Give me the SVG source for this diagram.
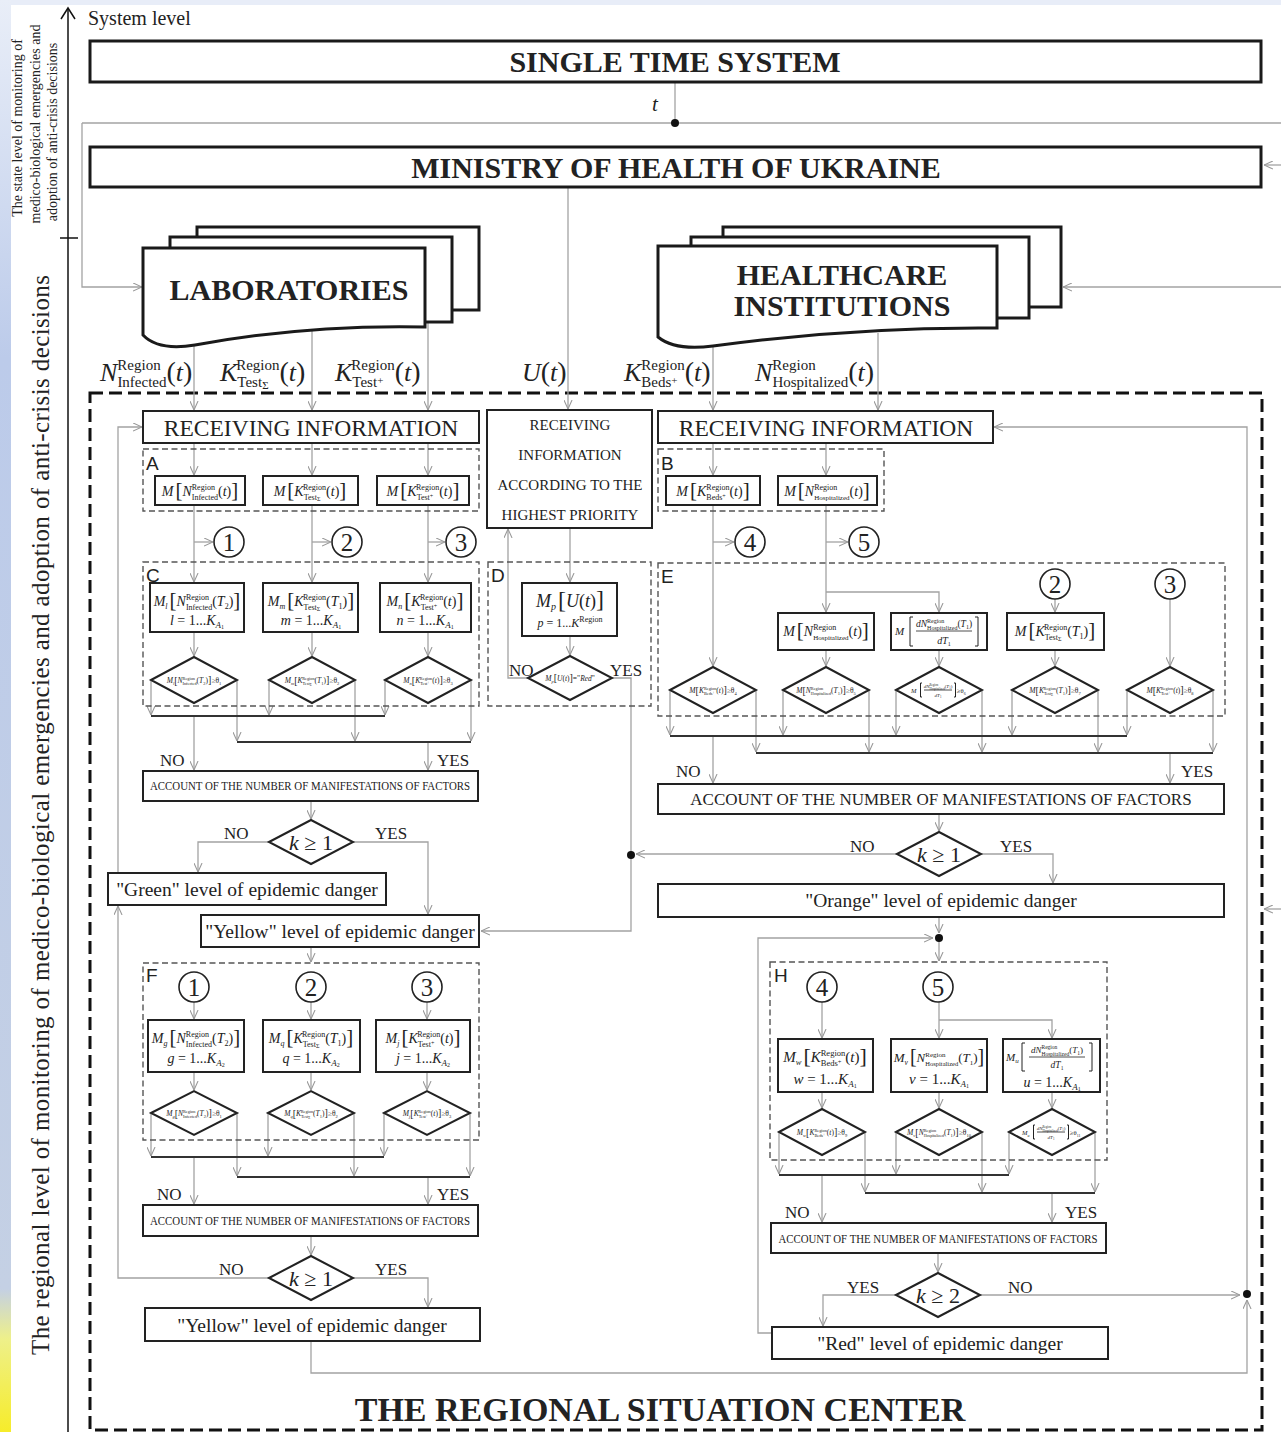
<svg xmlns="http://www.w3.org/2000/svg" width="1281" height="1432" viewBox="0 0 1281 1432">
<defs>
<linearGradient id="lg" x1="0" y1="0" x2="0" y2="1">
<stop offset="0" stop-color="#e9eef8"/>
<stop offset="0.25" stop-color="#bccbea"/>
<stop offset="0.9" stop-color="#c4d0e4"/>
<stop offset="0.935" stop-color="#eef08a"/>
<stop offset="1" stop-color="#f6ec2a"/>
</linearGradient>
<marker id="ar" viewBox="0 0 10 10" refX="10" refY="5" markerWidth="9" markerHeight="9" markerUnits="userSpaceOnUse" orient="auto"><path d="M0,0.5 L10,5 L0,9.5" fill="none" stroke="#999" stroke-width="1.2"/></marker>
<style>
.box{fill:#fff;stroke:#222;stroke-width:2}
.tb{fill:#fff;stroke:#1a1a1a;stroke-width:3}
.dm{fill:#fff;stroke:#222;stroke-width:2}
.sec{fill:none;stroke:#555;stroke-width:1.4;stroke-dasharray:6 3.5}
.reg{fill:none;stroke:#111;stroke-width:3;stroke-dasharray:13 6}
.c{fill:none;stroke:#a3a3a3;stroke-width:1.3}
.a{marker-end:url(#ar)}
.bus{fill:none;stroke:#333;stroke-width:2}
.cir{fill:#fff;stroke:#222;stroke-width:1.6}
.br{fill:none;stroke:#222;stroke-width:1}
.fl{stroke:#222;stroke-width:0.8}
text{font-family:"Liberation Serif","Times New Roman",serif;fill:#222}
.fm{text-anchor:middle}
.i{font-style:italic}
.bt{font-weight:bold;text-anchor:middle;font-size:30px}
.sl{font-family:"Liberation Sans",Arial,sans-serif;font-size:19px}
.lb{font-size:17px}
.num{font-size:25px;text-anchor:middle}
.lv{font-size:19.5px;text-anchor:middle}
</style>
</defs>
<rect x="0" y="0" width="1281" height="1432" fill="#fff"/>
<rect x="0" y="0" width="1281" height="5" fill="#e8edf8"/>
<rect x="0" y="0" width="11" height="1432" fill="url(#lg)"/>

<g id="axis">
<path d="M68,1432 V9" stroke="#111" stroke-width="1.5" fill="none"/>
<path d="M61,19 L68,8 L75,19" stroke="#111" stroke-width="1.5" fill="none"/>
<path d="M60,238 H78" stroke="#111" stroke-width="1.5"/>
<text x="88" y="25" font-size="20">System level</text>
<text class="fm" transform="translate(22,128) rotate(-90)" font-size="14">The state level of monitoring of</text>
<text class="fm" transform="translate(40,124) rotate(-90)" font-size="14">medico-biological emergencies and</text>
<text class="fm" transform="translate(57,132) rotate(-90)" font-size="14">adoption of anti-crisis decisions</text>
<text class="fm" transform="translate(49,815) rotate(-90)" font-size="25" textLength="1080">The regional level of monitoring of medico-biological emergencies and adoption of anti-crisis decisions</text>
</g>

<g id="region-border"><rect class="reg" x="90" y="393" width="1172" height="1037"/></g>

<g id="connectors">
<path class="c" d="M675,82 V123"/>
<path class="c" d="M82,123 H1281"/>
<path class="c a" d="M82,123 V287 H142"/>
<path class="c a" d="M1281,165 H1264"/>
<path class="c a" d="M1281,287 H1063"/>
<path class="c a" d="M1281,909 H1264"/>
<path class="c a" d="M568,187 V409"/>
<path class="c a" d="M194,345 V410"/>
<path class="c a" d="M312,331 V410"/>
<path class="c a" d="M428,322 V410"/>
<path class="c a" d="M713,347 V410"/>
<path class="c a" d="M878,333 V410"/>
<path class="c a" d="M194,443 V475"/>
<path class="c a" d="M312,443 V475"/>
<path class="c a" d="M428,443 V475"/>
<path class="c a" d="M194,505 V582"/>
<path class="c a" d="M312,505 V582"/>
<path class="c a" d="M428,505 V582"/>
<path class="c a" d="M194,542 H213"/>
<path class="c a" d="M312,542 H331"/>
<path class="c a" d="M428,542 H445"/>
<path class="c a" d="M194,632 V656"/>
<path class="c a" d="M312,632 V656"/>
<path class="c a" d="M428,632 V656"/>
<path class="c a" d="M151,680 V715"/>
<path class="c a" d="M237,680 V741"/>
<path class="c a" d="M269,680 V715"/>
<path class="c a" d="M355,680 V741"/>
<path class="c a" d="M385,680 V715"/>
<path class="c a" d="M471,680 V741"/>
<path class="c a" d="M194,716 V770"/>
<path class="c a" d="M428,742 V770"/>
<path class="c a" d="M311,801 V819"/>
<path class="c a" d="M269,842 H198 V872"/>
<path class="c a" d="M353,842 H428 V914"/>
<path class="c a" d="M570,528 V582"/>
<path class="c a" d="M570,636 V655"/>
<path class="c a" d="M528,678 H508 V529"/>
<path class="c" d="M612,678 H631 V855"/>
<path class="c a" d="M897,854 H636"/>
<path class="c a" d="M631,855 V931 H481"/>
<path class="c a" d="M311,947 V962"/>
<path class="c a" d="M269,1278 H118 V906"/>
<path class="c a" d="M118,873 V427 H142"/>
<path class="c a" d="M713,443 V475"/>
<path class="c a" d="M826,443 V475"/>
<path class="c a" d="M713,505 V666"/>
<path class="c a" d="M713,542 H734"/>
<path class="c a" d="M826,505 V612"/>
<path class="c a" d="M826,542 H848"/>
<path class="c a" d="M826,592 H939 V612"/>
<path class="c a" d="M826,650 V666"/>
<path class="c a" d="M939,650 V666"/>
<path class="c a" d="M1055,650 V666"/>
<path class="c a" d="M1055,599 V612"/>
<path class="c a" d="M1170,599 V666"/>
<path class="c a" d="M670,690 V735"/>
<path class="c a" d="M783,690 V735"/>
<path class="c a" d="M896,690 V735"/>
<path class="c a" d="M1012,690 V735"/>
<path class="c a" d="M1127,690 V735"/>
<path class="c a" d="M756,690 V752"/>
<path class="c a" d="M869,690 V752"/>
<path class="c a" d="M982,690 V752"/>
<path class="c a" d="M1098,690 V752"/>
<path class="c a" d="M1213,690 V752"/>
<path class="c a" d="M713,736 V783"/>
<path class="c a" d="M1170,753 V783"/>
<path class="c a" d="M939,814 V831"/>
<path class="c a" d="M981,854 H1053 V883"/>
<path class="c a" d="M939,917 V933"/>
<path class="c a" d="M772,1333 H758 V938 H933"/>
<path class="c a" d="M939,938 V961"/>
<path class="c a" d="M822,1002 V1038"/>
<path class="c a" d="M939,1002 V1038"/>
<path class="c a" d="M939,1020 H1052 V1038"/>
<path class="c a" d="M822,1092 V1108"/>
<path class="c a" d="M939,1092 V1108"/>
<path class="c a" d="M1052,1092 V1108"/>
<path class="c a" d="M779,1132 V1174"/>
<path class="c a" d="M896,1132 V1174"/>
<path class="c a" d="M1009,1132 V1174"/>
<path class="c a" d="M865,1132 V1192"/>
<path class="c a" d="M982,1132 V1192"/>
<path class="c a" d="M1095,1132 V1192"/>
<path class="c a" d="M822,1175 V1222"/>
<path class="c a" d="M1052,1193 V1222"/>
<path class="c a" d="M938,1253 V1272"/>
<path class="c a" d="M896,1295 H823 V1326"/>
<path class="c a" d="M980,1295 H1240"/>
<path class="c a" d="M311,1341 V1373 H1247 V1300"/>
<path class="c a" d="M1247,1294 V427 H994"/>
<path class="c a" d="M194,1002 V1019"/>
<path class="c a" d="M311,1002 V1019"/>
<path class="c a" d="M427,1002 V1019"/>
<path class="c a" d="M194,1072 V1090"/>
<path class="c a" d="M311,1072 V1090"/>
<path class="c a" d="M427,1072 V1090"/>
<path class="c a" d="M151,1113 V1156"/>
<path class="c a" d="M268,1113 V1156"/>
<path class="c a" d="M384,1113 V1156"/>
<path class="c a" d="M237,1113 V1176"/>
<path class="c a" d="M354,1113 V1176"/>
<path class="c a" d="M470,1113 V1176"/>
<path class="c a" d="M194,1157 V1204"/>
<path class="c a" d="M428,1177 V1204"/>
<path class="c a" d="M311,1236 V1255"/>
<path class="c a" d="M353,1278 H428 V1307"/>
<path class="bus" d="M151,716 H385 M237,742 H471 M670,736 H1127 M756,753 H1213 M779,1175 H1009 M865,1193 H1095 M151,1157 H384 M237,1177 H470"/>
<circle cx="675" cy="123" r="4" fill="#111"/>
<circle cx="631" cy="855" r="4" fill="#111"/>
<circle cx="939" cy="938" r="4" fill="#111"/>
<circle cx="1247" cy="1294" r="4" fill="#111"/>
<text x="652" y="111" font-size="21" class="i">t</text>
<text x="100" y="381" font-size="26"><tspan class="i">N</tspan><tspan font-size="15" dy="-11">Region</tspan><tspan font-size="15" dx="-43.3" dy="17">Infected</tspan><tspan font-size="28" dy="-6">(</tspan><tspan class="i">t</tspan><tspan font-size="28">)</tspan></text>
<text x="220" y="381" font-size="26"><tspan class="i">K</tspan><tspan font-size="15" dy="6">Test</tspan><tspan font-size="11" dy="2">Σ</tspan><tspan font-size="15" dx="-32.4" dy="-19">Region</tspan><tspan font-size="28" dy="11">(</tspan><tspan class="i">t</tspan><tspan font-size="28">)</tspan></text>
<text x="335" y="381" font-size="26"><tspan class="i">K</tspan><tspan font-size="15" dy="6">Test</tspan><tspan font-size="11" dy="-3">+</tspan><tspan font-size="15" dx="-32" dy="-14">Region</tspan><tspan font-size="28" dy="11">(</tspan><tspan class="i">t</tspan><tspan font-size="28">)</tspan></text>
<text x="522" y="381" font-size="26"><tspan class="i">U</tspan><tspan font-size="28">(</tspan><tspan class="i">t</tspan><tspan font-size="28">)</tspan></text>
<text x="624" y="381" font-size="26"><tspan class="i">K</tspan><tspan font-size="15" dy="6">Beds</tspan><tspan font-size="11" dy="-3">+</tspan><tspan font-size="15" dx="-36.2" dy="-14">Region</tspan><tspan font-size="28" dy="11">(</tspan><tspan class="i">t</tspan><tspan font-size="28">)</tspan></text>
<text x="755" y="381" font-size="26"><tspan class="i">N</tspan><tspan font-size="15" dy="-11">Region</tspan><tspan font-size="15" dx="-43.3" dy="17">Hospitalized</tspan><tspan font-size="28" dy="-6">(</tspan><tspan class="i">t</tspan><tspan font-size="28">)</tspan></text>
<text class="lb" x="160" y="766">NO</text>
<text class="lb" x="437" y="766">YES</text>
<text class="lb" x="224" y="839">NO</text>
<text class="lb" x="375" y="839">YES</text>
<text class="lb" x="509" y="676">NO</text>
<text class="lb" x="610" y="676">YES</text>
<text class="lb" x="676" y="777">NO</text>
<text class="lb" x="1181" y="777">YES</text>
<text class="lb" x="850" y="852">NO</text>
<text class="lb" x="1000" y="852">YES</text>
<text class="lb" x="157" y="1200">NO</text>
<text class="lb" x="437" y="1200">YES</text>
<text class="lb" x="219" y="1275">NO</text>
<text class="lb" x="375" y="1275">YES</text>
<text class="lb" x="785" y="1218">NO</text>
<text class="lb" x="1065" y="1218">YES</text>
<text class="lb" x="847" y="1293">YES</text>
<text class="lb" x="1008" y="1293">NO</text>
</g>

<g id="single-time-system"><rect class="tb" x="90" y="41" width="1171" height="41"/><text class="bt" x="675" y="72">SINGLE TIME SYSTEM</text></g>
<g id="ministry"><rect class="tb" x="90" y="147" width="1171" height="40"/><text class="bt" x="676" y="178">MINISTRY OF HEALTH OF UKRAINE</text></g>

<g id="laboratories">
<rect class="tb" x="197" y="227" width="282" height="83"/>
<rect class="tb" x="170" y="237" width="282" height="85"/>
<path class="tb" d="M143,248 H425 V327 C330,325 255,334 195,345 Q158,351 143,335 Z"/>
<text class="bt" x="289" y="300">LABORATORIES</text>
</g>
<g id="healthcare">
<rect class="tb" x="723" y="227" width="338" height="80"/>
<rect class="tb" x="691" y="237" width="338" height="81"/>
<path class="tb" d="M658,246 H997 V328 C890,327 800,334 713,346 Q675,351 658,337 Z"/>
<text class="bt" x="842" y="285">HEALTHCARE</text>
<text class="bt" x="842" y="316">INSTITUTIONS</text>
</g>

<g id="receiving-left"><rect class="box" x="143" y="411" width="336" height="32"/><text class="fm" x="311" y="436" font-size="23.5">RECEIVING INFORMATION</text></g>
<g id="receiving-priority"><rect class="box" x="487" y="410" width="165" height="118"/>
<text class="fm" x="570" y="430" font-size="15">RECEIVING</text>
<text class="fm" x="570" y="460" font-size="15">INFORMATION</text>
<text class="fm" x="570" y="490" font-size="15">ACCORDING TO THE</text>
<text class="fm" x="570" y="520" font-size="15">HIGHEST PRIORITY</text></g>
<g id="receiving-right"><rect class="box" x="658" y="411" width="335" height="32"/><text class="fm" x="826" y="436" font-size="23.5">RECEIVING INFORMATION</text></g>

<g id="section-A">
<rect class="sec" x="143" y="449" width="336" height="62"/><text class="sl" x="146" y="470">A</text>
<rect class="box" x="155" y="476" width="90" height="29"/>
<text class="fm" x="200" y="496" font-size="14"><tspan class="i">M</tspan><tspan font-size="21" dx="2" dy="1">[</tspan><tspan class="i" dy="-1">N</tspan><tspan font-size="8" dy="-6">Region</tspan><tspan font-size="8" dx="-23.1" dy="10">Infected</tspan><tspan dy="-4">(</tspan><tspan class="i">t</tspan><tspan>)</tspan><tspan font-size="21" dy="1">]</tspan></text>
<rect class="box" x="263" y="476" width="95" height="29"/>
<text class="fm" x="310" y="496" font-size="14"><tspan class="i">M</tspan><tspan font-size="21" dx="2" dy="1">[</tspan><tspan class="i" dy="-1">K</tspan><tspan font-size="8" dy="4">Test</tspan><tspan font-size="6" dy="1">Σ</tspan><tspan font-size="8" dx="-17.4" dy="-11">Region</tspan><tspan dy="6">(</tspan><tspan class="i">t</tspan><tspan>)</tspan><tspan font-size="21" dy="1">]</tspan></text>
<rect class="box" x="377" y="476" width="92" height="29"/>
<text class="fm" x="423" y="496" font-size="14"><tspan class="i">M</tspan><tspan font-size="21" dx="2" dy="1">[</tspan><tspan class="i" dy="-1">K</tspan><tspan font-size="8" dy="4">Test</tspan><tspan font-size="6" dy="-2">+</tspan><tspan font-size="8" dx="-17.2" dy="-8">Region</tspan><tspan dy="6">(</tspan><tspan class="i">t</tspan><tspan>)</tspan><tspan font-size="21" dy="1">]</tspan></text>
</g>

<g id="section-B">
<rect class="sec" x="658" y="449" width="226" height="62"/><text class="sl" x="661" y="470">B</text>
<rect class="box" x="666" y="476" width="94" height="29"/>
<text class="fm" x="713" y="496" font-size="14"><tspan class="i">M</tspan><tspan font-size="21" dx="2" dy="1">[</tspan><tspan class="i" dy="-1">K</tspan><tspan font-size="8" dy="4">Beds</tspan><tspan font-size="6" dy="-2">+</tspan><tspan font-size="8" dx="-19.4" dy="-8">Region</tspan><tspan dy="6">(</tspan><tspan class="i">t</tspan><tspan>)</tspan><tspan font-size="21" dy="1">]</tspan></text>
<rect class="box" x="778" y="476" width="99" height="29"/>
<text class="fm" x="827" y="496" font-size="14"><tspan class="i">M</tspan><tspan font-size="21" dx="2" dy="1">[</tspan><tspan class="i" dy="-1">N</tspan><tspan font-size="8" dy="-6">Region</tspan><tspan font-size="7" dx="-23.1" dy="10">Hospitalized</tspan><tspan dy="-4">(</tspan><tspan class="i">t</tspan><tspan>)</tspan><tspan font-size="21" dy="1">]</tspan></text>
</g>

<g id="circles">
<circle class="cir" cx="229" cy="542" r="15"/><text class="num" x="229" y="551">1</text>
<circle class="cir" cx="347" cy="542" r="15"/><text class="num" x="347" y="551">2</text>
<circle class="cir" cx="461" cy="542" r="15"/><text class="num" x="461" y="551">3</text>
<circle class="cir" cx="750" cy="542" r="15"/><text class="num" x="750" y="551">4</text>
<circle class="cir" cx="864" cy="542" r="15"/><text class="num" x="864" y="551">5</text>
<circle class="cir" cx="1055" cy="584" r="15"/><text class="num" x="1055" y="593">2</text>
<circle class="cir" cx="1170" cy="584" r="15"/><text class="num" x="1170" y="593">3</text>
<circle class="cir" cx="194" cy="987" r="15"/><text class="num" x="194" y="996">1</text>
<circle class="cir" cx="311" cy="987" r="15"/><text class="num" x="311" y="996">2</text>
<circle class="cir" cx="427" cy="987" r="15"/><text class="num" x="427" y="996">3</text>
<circle class="cir" cx="822" cy="987" r="15"/><text class="num" x="822" y="996">4</text>
<circle class="cir" cx="938" cy="987" r="15"/><text class="num" x="938" y="996">5</text>
</g>

<g id="section-C">
<rect class="sec" x="143" y="562" width="336" height="144"/><text class="sl" x="146" y="582">C</text>
<rect class="box" x="150" y="583" width="94" height="49"/>
<text class="fm" x="197" y="606" font-size="14"><tspan class="i">M</tspan><tspan class="i" font-size="8" dy="3">l</tspan><tspan font-size="21" dx="2" dy="-2">[</tspan><tspan class="i" dy="-1">N</tspan><tspan font-size="8" dy="-6">Region</tspan><tspan font-size="8" dx="-23.1" dy="10">Infected</tspan><tspan dy="-4">(</tspan><tspan class="i">T</tspan><tspan font-size="8" dy="3">2</tspan><tspan dy="-3">)</tspan><tspan font-size="21" dy="1">]</tspan></text>
<text class="fm" x="197" y="625" font-size="14"><tspan class="i">l</tspan> = 1...<tspan class="i">K</tspan><tspan class="i" font-size="9" dy="3">A</tspan><tspan font-size="6" dy="1">1</tspan></text>
<rect class="box" x="263" y="583" width="95" height="49"/>
<text class="fm" x="311" y="606" font-size="14"><tspan class="i">M</tspan><tspan class="i" font-size="8" dy="3">m</tspan><tspan font-size="21" dx="2" dy="-2">[</tspan><tspan class="i" dy="-1">K</tspan><tspan font-size="8" dy="4">Test</tspan><tspan font-size="6" dy="1">Σ</tspan><tspan font-size="8" dx="-17.4" dy="-11">Region</tspan><tspan dy="6">(</tspan><tspan class="i">T</tspan><tspan font-size="8" dy="3">1</tspan><tspan dy="-3">)</tspan><tspan font-size="21" dy="1">]</tspan></text>
<text class="fm" x="311" y="625" font-size="14"><tspan class="i">m</tspan> = 1...<tspan class="i">K</tspan><tspan class="i" font-size="9" dy="3">A</tspan><tspan font-size="6" dy="1">1</tspan></text>
<rect class="box" x="380" y="583" width="91" height="49"/>
<text class="fm" x="425" y="606" font-size="14"><tspan class="i">M</tspan><tspan class="i" font-size="8" dy="3">n</tspan><tspan font-size="21" dx="2" dy="-2">[</tspan><tspan class="i" dy="-1">K</tspan><tspan font-size="8" dy="4">Test</tspan><tspan font-size="6" dy="-2">+</tspan><tspan font-size="8" dx="-17.2" dy="-8">Region</tspan><tspan dy="6">(</tspan><tspan class="i">t</tspan><tspan>)</tspan><tspan font-size="21" dy="1">]</tspan></text>
<text class="fm" x="425" y="625" font-size="14"><tspan class="i">n</tspan> = 1...<tspan class="i">K</tspan><tspan class="i" font-size="9" dy="3">A</tspan><tspan font-size="6" dy="1">1</tspan></text>
<polygon class="dm" points="151,680 194,657 237,680 194,703"/>
<text class="fm" x="194" y="683" font-size="7.5"><tspan class="i">M</tspan><tspan class="i" font-size="4.5" dy="2">l</tspan><tspan font-size="10" dy="-1.5">[</tspan><tspan class="i" dy="-0.5">N</tspan><tspan font-size="4.3" dy="-3">Region</tspan><tspan font-size="4.3" dx="-12.4" dy="5">Infected</tspan><tspan dy="-2">(</tspan><tspan class="i">T</tspan><tspan font-size="4.5" dy="1.5">2</tspan><tspan dy="-1.5">)</tspan><tspan font-size="10">]</tspan>≥θ<tspan font-size="4.5" dy="1.5">1</tspan></text>
<polygon class="dm" points="269,680 312,657 355,680 312,703"/>
<text class="fm" x="312" y="683" font-size="7.5"><tspan class="i">M</tspan><tspan class="i" font-size="4.5" dy="2">m</tspan><tspan font-size="10" dy="-1.5">[</tspan><tspan class="i" dy="-0.5">K</tspan><tspan font-size="4.3" dy="2">Test</tspan><tspan font-size="3.5" dy="0.5">Σ</tspan><tspan font-size="4.3" dx="-9.5" dy="-5.5">Region</tspan><tspan dy="3">(</tspan><tspan class="i">T</tspan><tspan font-size="4.5" dy="1.5">1</tspan><tspan dy="-1.5">)</tspan><tspan font-size="10">]</tspan>≥θ<tspan font-size="4.5" dy="1.5">2</tspan></text>
<polygon class="dm" points="385,680 428,657 471,680 428,703"/>
<text class="fm" x="428" y="683" font-size="7.5"><tspan class="i">M</tspan><tspan class="i" font-size="4.5" dy="2">n</tspan><tspan font-size="10" dy="-1.5">[</tspan><tspan class="i" dy="-0.5">K</tspan><tspan font-size="4.3" dy="2">Test</tspan><tspan font-size="3.5" dy="-1">+</tspan><tspan font-size="4.3" dx="-9.4" dy="-4">Region</tspan><tspan dy="3">(</tspan><tspan class="i">t</tspan><tspan>)</tspan><tspan font-size="10">]</tspan>≥θ<tspan font-size="4.5" dy="1.5">3</tspan></text>
</g>

<g id="section-D">
<rect class="sec" x="488" y="562" width="163" height="144"/><text class="sl" x="491" y="582">D</text>
<rect class="box" x="522" y="583" width="95" height="53"/>
<text class="fm" x="570" y="607" font-size="18"><tspan class="i">M</tspan><tspan class="i" font-size="10" dy="3">p</tspan><tspan font-size="24" dx="2" dy="-2">[</tspan><tspan class="i" dy="-1">U</tspan><tspan>(</tspan><tspan class="i">t</tspan><tspan>)</tspan><tspan font-size="24">]</tspan></text>
<text class="fm" x="570" y="627" font-size="12"><tspan class="i">p</tspan> = 1...<tspan class="i">K</tspan><tspan font-size="8" dy="-5">Region</tspan></text>
<polygon class="dm" points="528,678 570,656 612,678 570,700"/>
<text class="fm" x="570" y="681" font-size="7.5"><tspan class="i">M</tspan><tspan class="i" font-size="4.5" dy="2">p</tspan><tspan font-size="10" dy="-2">[</tspan><tspan class="i">U</tspan>(<tspan class="i">t</tspan>)<tspan font-size="10">]</tspan>="<tspan class="i">Red</tspan>"</text>
</g>

<g id="section-E">
<rect class="sec" x="658" y="563" width="567" height="153"/><text class="sl" x="661" y="583">E</text>
<rect class="box" x="778" y="613" width="96" height="37"/>
<text class="fm" x="826" y="636" font-size="14"><tspan class="i">M</tspan><tspan font-size="21" dx="2" dy="1">[</tspan><tspan class="i" dy="-1">N</tspan><tspan font-size="8" dy="-6">Region</tspan><tspan font-size="7" dx="-23.1" dy="10">Hospitalized</tspan><tspan dy="-4">(</tspan><tspan class="i">t</tspan><tspan>)</tspan><tspan font-size="21" dy="1">]</tspan></text>
<rect class="box" x="891" y="613" width="96" height="37"/>
<text x="895" y="635" font-size="11" class="i">M</text>
<path class="br" d="M913,617 h-3 v29 h3 M975,617 h3 v29 h-3"/>
<text class="fm" x="944" y="627" font-size="9.5"><tspan class="i">dN</tspan><tspan font-size="6" dy="-4">Region</tspan><tspan font-size="6" dx="-17.3" dy="7">Hospitalized</tspan><tspan dy="-3">(</tspan><tspan class="i">T</tspan><tspan font-size="6" dy="2">1</tspan><tspan dy="-2">)</tspan></text>
<path class="fl" d="M916,631 H972"/>
<text class="fm" x="944" y="644" font-size="10"><tspan class="i">dT</tspan><tspan font-size="6" dy="2">1</tspan></text>
<rect class="box" x="1007" y="613" width="97" height="37"/>
<text class="fm" x="1055" y="636" font-size="14"><tspan class="i">M</tspan><tspan font-size="21" dx="2" dy="1">[</tspan><tspan class="i" dy="-1">K</tspan><tspan font-size="8" dy="4">Test</tspan><tspan font-size="6" dy="1">Σ</tspan><tspan font-size="8" dx="-17.4" dy="-11">Region</tspan><tspan dy="6">(</tspan><tspan class="i">T</tspan><tspan font-size="8" dy="3">1</tspan><tspan dy="-3">)</tspan><tspan font-size="21" dy="1">]</tspan></text>
<polygon class="dm" points="670,690 713,667 756,690 713,713"/>
<text class="fm" x="713" y="693" font-size="7.5"><tspan class="i">M</tspan><tspan font-size="10" dy="0.5">[</tspan><tspan class="i" dy="-0.5">K</tspan><tspan font-size="4.3" dy="2">Beds</tspan><tspan font-size="3.5" dy="-1">+</tspan><tspan font-size="4.3" dx="-10.6" dy="-4">Region</tspan><tspan dy="3">(</tspan><tspan class="i">t</tspan><tspan>)</tspan><tspan font-size="10">]</tspan>≥θ<tspan font-size="4.5" dy="1.5">4</tspan></text>
<polygon class="dm" points="783,690 826,667 869,690 826,713"/>
<text class="fm" x="826" y="693" font-size="7.5"><tspan class="i">M</tspan><tspan font-size="10" dy="0.5">[</tspan><tspan class="i" dy="-0.5">N</tspan><tspan font-size="4.3" dy="-3">Region</tspan><tspan font-size="4" dx="-12.4" dy="5">Hospitalized</tspan><tspan dy="-2">(</tspan><tspan class="i">T</tspan><tspan font-size="4.5" dy="1.5">1</tspan><tspan dy="-1.5">)</tspan><tspan font-size="10">]</tspan>≥θ<tspan font-size="4.5" dy="1.5">5</tspan></text>
<polygon class="dm" points="896,690 939,667 982,690 939,713"/>
<text x="911" y="693" font-size="6.5" class="i">M</text>
<path class="br" d="M922,683 h-1.5 v14 h1.5 M954,683 h1.5 v14 h-1.5"/>
<text class="fm" x="938" y="688" font-size="5"><tspan class="i">dN</tspan><tspan font-size="3" dy="-2">Region</tspan><tspan font-size="3" dx="-8.7" dy="3.5">Hospitalized</tspan><tspan dy="-1.5">(</tspan><tspan class="i">T</tspan><tspan font-size="3" dy="1">1</tspan><tspan dy="-1">)</tspan></text>
<path class="fl" d="M924,690 H952" stroke-width="0.6"/>
<text class="fm" x="938" y="697" font-size="5"><tspan class="i">dT</tspan><tspan font-size="3" dy="1">1</tspan></text>
<text x="957" y="693" font-size="6.5">≥θ<tspan font-size="4" dy="1.5">6</tspan></text>
<polygon class="dm" points="1012,690 1055,667 1098,690 1055,713"/>
<text class="fm" x="1055" y="693" font-size="7.5"><tspan class="i">M</tspan><tspan font-size="10" dy="0.5">[</tspan><tspan class="i" dy="-0.5">K</tspan><tspan font-size="4.3" dy="2">Test</tspan><tspan font-size="3.5" dy="0.5">Σ</tspan><tspan font-size="4.3" dx="-9.5" dy="-5.5">Region</tspan><tspan dy="3">(</tspan><tspan class="i">T</tspan><tspan font-size="4.5" dy="1.5">1</tspan><tspan dy="-1.5">)</tspan><tspan font-size="10">]</tspan>≥θ<tspan font-size="4.5" dy="1.5">7</tspan></text>
<polygon class="dm" points="1127,690 1170,667 1213,690 1170,713"/>
<text class="fm" x="1170" y="693" font-size="7.5"><tspan class="i">M</tspan><tspan font-size="10" dy="0.5">[</tspan><tspan class="i" dy="-0.5">K</tspan><tspan font-size="4.3" dy="2">Test</tspan><tspan font-size="3.5" dy="-1">+</tspan><tspan font-size="4.3" dx="-9.4" dy="-4">Region</tspan><tspan dy="3">(</tspan><tspan class="i">t</tspan><tspan>)</tspan><tspan font-size="10">]</tspan>≥θ<tspan font-size="4.5" dy="1.5">8</tspan></text>
</g>

<g id="account-left"><rect class="box" x="143" y="771" width="335" height="30"/><text class="fm" x="310" y="790" font-size="12" textLength="320" lengthAdjust="spacingAndGlyphs">ACCOUNT OF THE NUMBER OF MANIFESTATIONS OF FACTORS</text></g>
<g id="decision-left"><polygon class="dm" points="269,842 311,820 353,842 311,864"/><text class="fm" x="311" y="850" font-size="22"><tspan class="i">k</tspan> ≥ 1</text></g>
<g id="green-level"><rect class="box" x="108" y="873" width="278" height="32"/><text class="lv" x="247" y="896">"Green" level of epidemic danger</text></g>
<g id="yellow-level"><rect class="box" x="201" y="915" width="278" height="32"/><text class="lv" x="340" y="938">"Yellow" level of epidemic danger</text></g>

<g id="account-right"><rect class="box" x="658" y="784" width="566" height="30"/><text class="fm" x="941" y="805" font-size="17">ACCOUNT OF THE NUMBER OF MANIFESTATIONS OF FACTORS</text></g>
<g id="decision-right"><polygon class="dm" points="897,854 939,832 981,854 939,876"/><text class="fm" x="939" y="862" font-size="22"><tspan class="i">k</tspan> ≥ 1</text></g>
<g id="orange-level"><rect class="box" x="658" y="884" width="566" height="33"/><text class="lv" x="941" y="907">"Orange" level of epidemic danger</text></g>

<g id="section-F">
<rect class="sec" x="143" y="963" width="336" height="177"/><text class="sl" x="146" y="982">F</text>
<rect class="box" x="148" y="1020" width="96" height="52"/>
<text class="fm" x="196" y="1043" font-size="14"><tspan class="i">M</tspan><tspan class="i" font-size="8" dy="3">g</tspan><tspan font-size="21" dx="2" dy="-2">[</tspan><tspan class="i" dy="-1">N</tspan><tspan font-size="8" dy="-6">Region</tspan><tspan font-size="8" dx="-23.1" dy="10">Infected</tspan><tspan dy="-4">(</tspan><tspan class="i">T</tspan><tspan font-size="8" dy="3">2</tspan><tspan dy="-3">)</tspan><tspan font-size="21" dy="1">]</tspan></text>
<text class="fm" x="196" y="1063" font-size="14"><tspan class="i">g</tspan> = 1...<tspan class="i">K</tspan><tspan class="i" font-size="9" dy="3">A</tspan><tspan font-size="6" dy="1">2</tspan></text>
<rect class="box" x="263" y="1020" width="97" height="52"/>
<text class="fm" x="311" y="1043" font-size="14"><tspan class="i">M</tspan><tspan class="i" font-size="8" dy="3">q</tspan><tspan font-size="21" dx="2" dy="-2">[</tspan><tspan class="i" dy="-1">K</tspan><tspan font-size="8" dy="4">Test</tspan><tspan font-size="6" dy="1">Σ</tspan><tspan font-size="8" dx="-17.4" dy="-11">Region</tspan><tspan dy="6">(</tspan><tspan class="i">T</tspan><tspan font-size="8" dy="3">1</tspan><tspan dy="-3">)</tspan><tspan font-size="21" dy="1">]</tspan></text>
<text class="fm" x="311" y="1063" font-size="14"><tspan class="i">q</tspan> = 1...<tspan class="i">K</tspan><tspan class="i" font-size="9" dy="3">A</tspan><tspan font-size="6" dy="1">2</tspan></text>
<rect class="box" x="376" y="1020" width="94" height="52"/>
<text class="fm" x="423" y="1043" font-size="14"><tspan class="i">M</tspan><tspan class="i" font-size="8" dy="3">j</tspan><tspan font-size="21" dx="2" dy="-2">[</tspan><tspan class="i" dy="-1">K</tspan><tspan font-size="8" dy="4">Test</tspan><tspan font-size="6" dy="-2">+</tspan><tspan font-size="8" dx="-17.2" dy="-8">Region</tspan><tspan dy="6">(</tspan><tspan class="i">t</tspan><tspan>)</tspan><tspan font-size="21" dy="1">]</tspan></text>
<text class="fm" x="423" y="1063" font-size="14"><tspan class="i">j</tspan> = 1...<tspan class="i">K</tspan><tspan class="i" font-size="9" dy="3">A</tspan><tspan font-size="6" dy="1">2</tspan></text>
<polygon class="dm" points="151,1113 194,1091 237,1113 194,1135"/>
<text class="fm" x="194" y="1116" font-size="7.5"><tspan class="i">M</tspan><tspan class="i" font-size="4.5" dy="2">g</tspan><tspan font-size="10" dy="-1.5">[</tspan><tspan class="i" dy="-0.5">N</tspan><tspan font-size="4.3" dy="-3">Region</tspan><tspan font-size="4.3" dx="-12.4" dy="5">Infected</tspan><tspan dy="-2">(</tspan><tspan class="i">T</tspan><tspan font-size="4.5" dy="1.5">2</tspan><tspan dy="-1.5">)</tspan><tspan font-size="10">]</tspan>≥θ<tspan font-size="4.5" dy="1.5">1</tspan></text>
<polygon class="dm" points="268,1113 311,1091 354,1113 311,1135"/>
<text class="fm" x="311" y="1116" font-size="7.5"><tspan class="i">M</tspan><tspan class="i" font-size="4.5" dy="2">q</tspan><tspan font-size="10" dy="-1.5">[</tspan><tspan class="i" dy="-0.5">K</tspan><tspan font-size="4.3" dy="2">Test</tspan><tspan font-size="3.5" dy="0.5">Σ</tspan><tspan font-size="4.3" dx="-9.5" dy="-5.5">Region</tspan><tspan dy="3">(</tspan><tspan class="i">T</tspan><tspan font-size="4.5" dy="1.5">1</tspan><tspan dy="-1.5">)</tspan><tspan font-size="10">]</tspan>≥θ<tspan font-size="4.5" dy="1.5">2</tspan></text>
<polygon class="dm" points="384,1113 427,1091 470,1113 427,1135"/>
<text class="fm" x="427" y="1116" font-size="7.5"><tspan class="i">M</tspan><tspan class="i" font-size="4.5" dy="2">j</tspan><tspan font-size="10" dy="-1.5">[</tspan><tspan class="i" dy="-0.5">K</tspan><tspan font-size="4.3" dy="2">Test</tspan><tspan font-size="3.5" dy="-1">+</tspan><tspan font-size="4.3" dx="-9.4" dy="-4">Region</tspan><tspan dy="3">(</tspan><tspan class="i">t</tspan><tspan>)</tspan><tspan font-size="10">]</tspan>≥θ<tspan font-size="4.5" dy="1.5">3</tspan></text>
</g>

<g id="account-F"><rect class="box" x="143" y="1205" width="335" height="31"/><text class="fm" x="310" y="1225" font-size="12" textLength="320" lengthAdjust="spacingAndGlyphs">ACCOUNT OF THE NUMBER OF MANIFESTATIONS OF FACTORS</text></g>
<g id="decision-F"><polygon class="dm" points="269,1278 311,1256 353,1278 311,1300"/><text class="fm" x="311" y="1286" font-size="22"><tspan class="i">k</tspan> ≥ 1</text></g>
<g id="yellow-level-2"><rect class="box" x="145" y="1308" width="335" height="33"/><text class="lv" x="312" y="1332">"Yellow" level of epidemic danger</text></g>

<g id="section-H">
<rect class="sec" x="770" y="962" width="337" height="198"/><text class="sl" x="774" y="982">H</text>
<rect class="box" x="778" y="1039" width="95" height="53"/>
<text class="fm" x="825" y="1062" font-size="15"><tspan class="i">M</tspan><tspan class="i" font-size="8.5" dy="3">w</tspan><tspan font-size="22" dx="2" dy="-2">[</tspan><tspan class="i" dy="-1">K</tspan><tspan font-size="8.5" dy="4">Beds</tspan><tspan font-size="6.5" dy="-2">+</tspan><tspan font-size="8.5" dx="-20.7" dy="-8">Region</tspan><tspan dy="6">(</tspan><tspan class="i">t</tspan><tspan>)</tspan><tspan font-size="22" dy="1">]</tspan></text>
<text class="fm" x="825" y="1084" font-size="15"><tspan class="i">w</tspan> = 1...<tspan class="i">K</tspan><tspan class="i" font-size="9" dy="3">A</tspan><tspan font-size="6" dy="1">1</tspan></text>
<rect class="box" x="891" y="1039" width="96" height="53"/>
<text class="fm" x="939" y="1062" font-size="13"><tspan class="i">M</tspan><tspan class="i" font-size="7.5" dy="3">v</tspan><tspan font-size="20" dx="2" dy="-2">[</tspan><tspan class="i" dy="-1">N</tspan><tspan font-size="7" dy="-5">Region</tspan><tspan font-size="6.5" dx="-20.2" dy="9">Hospitalized</tspan><tspan dy="-4">(</tspan><tspan class="i">T</tspan><tspan font-size="7" dy="3">1</tspan><tspan dy="-3">)</tspan><tspan font-size="20" dy="1">]</tspan></text>
<text class="fm" x="939" y="1084" font-size="15"><tspan class="i">v</tspan> = 1...<tspan class="i">K</tspan><tspan class="i" font-size="9" dy="3">A</tspan><tspan font-size="6" dy="1">1</tspan></text>
<rect class="box" x="1003" y="1039" width="97" height="53"/>
<text x="1006" y="1061" font-size="11" class="i">M<tspan font-size="7" dy="2">u</tspan></text>
<path class="br" d="M1025,1043 h-3 v28 h3 M1089,1043 h3 v28 h-3"/>
<text class="fm" x="1057" y="1053" font-size="9"><tspan class="i">dN</tspan><tspan font-size="5.5" dy="-4">Region</tspan><tspan font-size="5.5" dx="-15.9" dy="7">Hospitalized</tspan><tspan dy="-3">(</tspan><tspan class="i">T</tspan><tspan font-size="5.5" dy="2">1</tspan><tspan dy="-2">)</tspan></text>
<path class="fl" d="M1029,1057 H1085"/>
<text class="fm" x="1057" y="1068" font-size="9.5"><tspan class="i">dT</tspan><tspan font-size="5.5" dy="2">1</tspan></text>
<text class="fm" x="1052" y="1087" font-size="14"><tspan class="i">u</tspan> = 1...<tspan class="i">K</tspan><tspan class="i" font-size="9" dy="3">A</tspan><tspan font-size="6" dy="1">1</tspan></text>
<polygon class="dm" points="779,1132 822,1109 865,1132 822,1155"/>
<text class="fm" x="822" y="1135" font-size="7.5"><tspan class="i">M</tspan><tspan class="i" font-size="4.5" dy="2">w</tspan><tspan font-size="10" dy="-1.5">[</tspan><tspan class="i" dy="-0.5">K</tspan><tspan font-size="4.3" dy="2">Beds</tspan><tspan font-size="3.5" dy="-1">+</tspan><tspan font-size="4.3" dx="-10.6" dy="-4">Region</tspan><tspan dy="3">(</tspan><tspan class="i">t</tspan><tspan>)</tspan><tspan font-size="10">]</tspan>≥θ<tspan font-size="4.5" dy="1.5">9</tspan></text>
<polygon class="dm" points="896,1132 939,1109 982,1132 939,1155"/>
<text class="fm" x="939" y="1135" font-size="7.5"><tspan class="i">M</tspan><tspan class="i" font-size="4.5" dy="2">v</tspan><tspan font-size="10" dy="-1.5">[</tspan><tspan class="i" dy="-0.5">N</tspan><tspan font-size="4.3" dy="-3">Region</tspan><tspan font-size="4" dx="-12.4" dy="5">Hospitalized</tspan><tspan dy="-2">(</tspan><tspan class="i">T</tspan><tspan font-size="4.5" dy="1.5">1</tspan><tspan dy="-1.5">)</tspan><tspan font-size="10">]</tspan>≥θ<tspan font-size="4.5" dy="1.5">10</tspan></text>
<polygon class="dm" points="1009,1132 1052,1109 1095,1132 1052,1155"/>
<text x="1022" y="1135" font-size="6.5" class="i">M<tspan font-size="4" dy="1.5">u</tspan></text>
<path class="br" d="M1035,1125 h-1.5 v14 h1.5 M1067,1125 h1.5 v14 h-1.5"/>
<text class="fm" x="1051" y="1130" font-size="5"><tspan class="i">dN</tspan><tspan font-size="3" dy="-2">Region</tspan><tspan font-size="3" dx="-8.7" dy="3.5">Hospitalized</tspan><tspan dy="-1.5">(</tspan><tspan class="i">T</tspan><tspan font-size="3" dy="1">1</tspan><tspan dy="-1">)</tspan></text>
<path class="fl" d="M1037,1132 H1065" stroke-width="0.6"/>
<text class="fm" x="1051" y="1139" font-size="5"><tspan class="i">dT</tspan><tspan font-size="3" dy="1">1</tspan></text>
<text x="1070" y="1135" font-size="6.5">≥θ<tspan font-size="4" dy="1.5">11</tspan></text>
</g>

<g id="account-H"><rect class="box" x="771" y="1223" width="335" height="30"/><text class="fm" x="938" y="1243" font-size="12" textLength="319" lengthAdjust="spacingAndGlyphs">ACCOUNT OF THE NUMBER OF MANIFESTATIONS OF FACTORS</text></g>
<g id="decision-H"><polygon class="dm" points="896,1295 938,1273 980,1295 938,1317"/><text class="fm" x="938" y="1303" font-size="22"><tspan class="i">k</tspan> ≥ 2</text></g>
<g id="red-level"><rect class="box" x="772" y="1327" width="336" height="32"/><text class="lv" x="940" y="1350">"Red" level of epidemic danger</text></g>

<g id="regional-center-title"><text class="bt" x="660" y="1421" font-size="34" style="font-size:34px">THE REGIONAL SITUATION CENTER</text></g>
</svg>
